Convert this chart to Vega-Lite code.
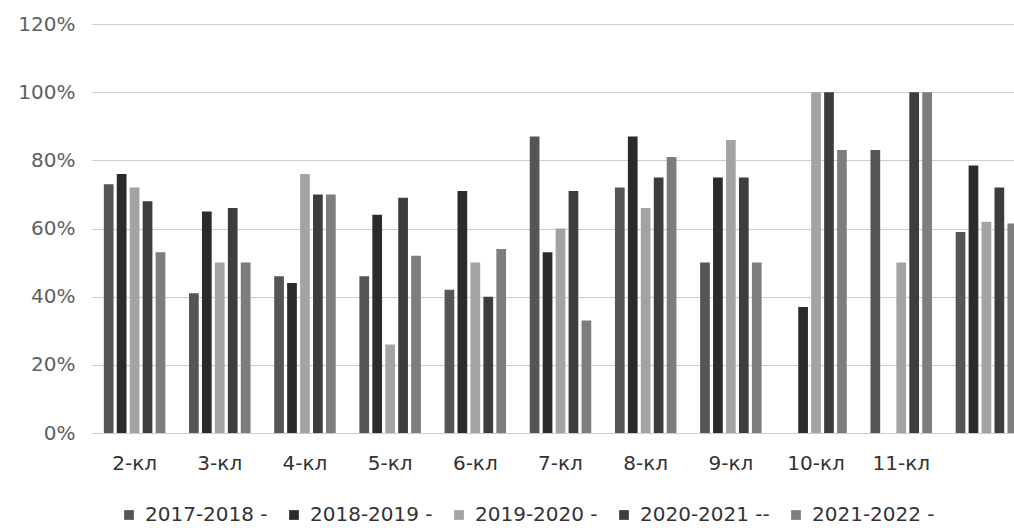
{
  "$schema": "https://vega.github.io/schema/vega-lite/v6.json",
  "autosize": {"type": "none"},
  "padding": {"left": 92, "top": 24, "right": 0, "bottom": 95},
  "width": 922,
  "height": 409,
  "background": "#ffffff",
  "data": {
    "values": [
      {"kl": "2-кл", "year": "2017-2018", "v": 0.73},
      {"kl": "2-кл", "year": "2018-2019", "v": 0.76},
      {"kl": "2-кл", "year": "2019-2020", "v": 0.72},
      {"kl": "2-кл", "year": "2020-2021", "v": 0.68},
      {"kl": "2-кл", "year": "2021-2022", "v": 0.53},
      {"kl": "3-кл", "year": "2017-2018", "v": 0.41},
      {"kl": "3-кл", "year": "2018-2019", "v": 0.65},
      {"kl": "3-кл", "year": "2019-2020", "v": 0.50},
      {"kl": "3-кл", "year": "2020-2021", "v": 0.66},
      {"kl": "3-кл", "year": "2021-2022", "v": 0.50},
      {"kl": "4-кл", "year": "2017-2018", "v": 0.46},
      {"kl": "4-кл", "year": "2018-2019", "v": 0.44},
      {"kl": "4-кл", "year": "2019-2020", "v": 0.76},
      {"kl": "4-кл", "year": "2020-2021", "v": 0.70},
      {"kl": "4-кл", "year": "2021-2022", "v": 0.70},
      {"kl": "5-кл", "year": "2017-2018", "v": 0.46},
      {"kl": "5-кл", "year": "2018-2019", "v": 0.64},
      {"kl": "5-кл", "year": "2019-2020", "v": 0.26},
      {"kl": "5-кл", "year": "2020-2021", "v": 0.69},
      {"kl": "5-кл", "year": "2021-2022", "v": 0.52},
      {"kl": "6-кл", "year": "2017-2018", "v": 0.42},
      {"kl": "6-кл", "year": "2018-2019", "v": 0.71},
      {"kl": "6-кл", "year": "2019-2020", "v": 0.50},
      {"kl": "6-кл", "year": "2020-2021", "v": 0.40},
      {"kl": "6-кл", "year": "2021-2022", "v": 0.54},
      {"kl": "7-кл", "year": "2017-2018", "v": 0.87},
      {"kl": "7-кл", "year": "2018-2019", "v": 0.53},
      {"kl": "7-кл", "year": "2019-2020", "v": 0.60},
      {"kl": "7-кл", "year": "2020-2021", "v": 0.71},
      {"kl": "7-кл", "year": "2021-2022", "v": 0.33},
      {"kl": "8-кл", "year": "2017-2018", "v": 0.72},
      {"kl": "8-кл", "year": "2018-2019", "v": 0.87},
      {"kl": "8-кл", "year": "2019-2020", "v": 0.66},
      {"kl": "8-кл", "year": "2020-2021", "v": 0.75},
      {"kl": "8-кл", "year": "2021-2022", "v": 0.81},
      {"kl": "9-кл", "year": "2017-2018", "v": 0.50},
      {"kl": "9-кл", "year": "2018-2019", "v": 0.75},
      {"kl": "9-кл", "year": "2019-2020", "v": 0.86},
      {"kl": "9-кл", "year": "2020-2021", "v": 0.75},
      {"kl": "9-кл", "year": "2021-2022", "v": 0.50},
      {"kl": "10-кл", "year": "2018-2019", "v": 0.37},
      {"kl": "10-кл", "year": "2019-2020", "v": 1.00},
      {"kl": "10-кл", "year": "2020-2021", "v": 1.00},
      {"kl": "10-кл", "year": "2021-2022", "v": 0.83},
      {"kl": "11-кл", "year": "2017-2018", "v": 0.83},
      {"kl": "11-кл", "year": "2019-2020", "v": 0.50},
      {"kl": "11-кл", "year": "2020-2021", "v": 1.00},
      {"kl": "11-кл", "year": "2021-2022", "v": 1.00},
      {"kl": "", "year": "2017-2018", "v": 0.59},
      {"kl": "", "year": "2018-2019", "v": 0.785},
      {"kl": "", "year": "2019-2020", "v": 0.62},
      {"kl": "", "year": "2020-2021", "v": 0.72},
      {"kl": "", "year": "2021-2022", "v": 0.615}
    ]
  },
  "mark": {"type": "bar", "clip": true},
  "encoding": {
    "x": {
      "field": "kl",
      "type": "nominal",
      "sort": ["2-кл", "3-кл", "4-кл", "5-кл", "6-кл", "7-кл", "8-кл", "9-кл", "10-кл", "11-кл", ""],
      "scale": {"range": [0, 937], "paddingInner": 0.24, "paddingOuter": 0.12},
      "axis": {
        "title": null,
        "labelAngle": 0,
        "domain": false,
        "ticks": false,
        "labelPadding": 20,
        "labelFont": "DejaVu Sans",
        "labelFontSize": 20,
        "labelColor": "#333333"
      }
    },
    "xOffset": {
      "field": "year",
      "type": "nominal",
      "scale": {"paddingInner": 0.25, "paddingOuter": 0.125}
    },
    "y": {
      "field": "v",
      "type": "quantitative",
      "scale": {"domain": [0, 1.2], "nice": false},
      "axis": {
        "title": null,
        "format": ".0%",
        "values": [0, 0.2, 0.4, 0.6, 0.8, 1.0, 1.2],
        "domain": false,
        "ticks": false,
        "labelPadding": 17,
        "labelFont": "DejaVu Sans",
        "labelFontSize": 20,
        "labelColor": "#606060",
        "gridColor": "#cccccc",
        "gridWidth": 1
      }
    },
    "color": {
      "field": "year",
      "type": "nominal",
      "scale": {
        "domain": ["2017-2018", "2018-2019", "2019-2020", "2020-2021", "2021-2022"],
        "range": ["#555555", "#2b2b2b", "#a3a3a3", "#3d3d3d", "#7d7d7d"]
      },
      "legend": {
        "title": null,
        "orient": "none",
        "direction": "horizontal",
        "legendX": 27,
        "legendY": 481,
        "padding": 0,
        "symbolType": "square",
        "symbolSize": 95,
        "symbolStrokeWidth": 0,
        "labelFont": "DejaVu Sans",
        "labelFontSize": 20,
        "labelColor": "#333333",
        "labelOffset": 6,
        "columnPadding": 16,
        "labelLimit": 400,
        "labelExpr": "datum.label === '2020-2021' ? datum.label + ' --' : datum.label + ' -'"
      }
    }
  },
  "config": {
    "view": {"stroke": null}
  }
}
